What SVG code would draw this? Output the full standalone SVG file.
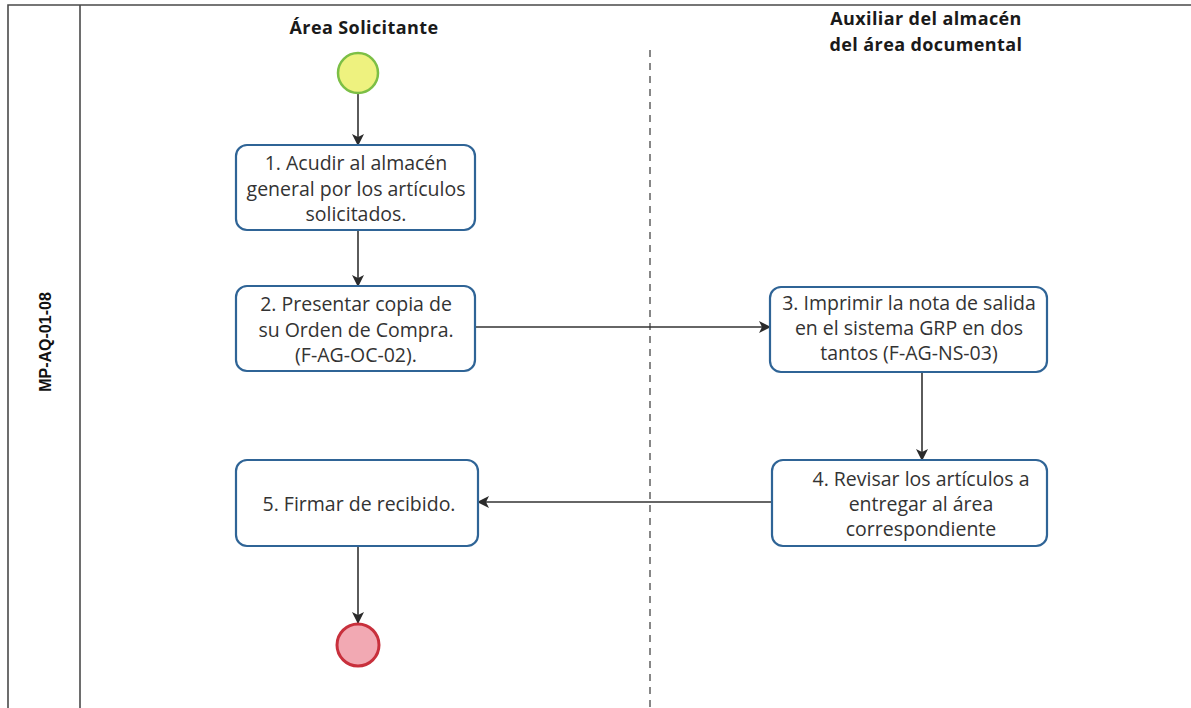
<svg xmlns="http://www.w3.org/2000/svg" width="1191" height="708" viewBox="0 0 1191 708">
  <style>
    .frame { fill: none; stroke: #4a4a4a; stroke-width: 1.6; }
    .lane { fill: none; stroke: #555; stroke-width: 1.4; stroke-dasharray: 7 6; }
    .task { fill: #ffffff; stroke: #2f6496; stroke-width: 2.2; }
    .txt { font-family: "Open Sans", "Noto Sans", sans-serif; font-size: 19.5px; fill: #333; text-anchor: middle; dominant-baseline: central; }
    .hdr { font-family: "Open Sans", "Noto Sans", sans-serif; font-size: 18px; font-weight: bold; letter-spacing: 0.4px; fill: #1a1a1a; text-anchor: middle; dominant-baseline: central; }
    .code { font-family: "Liberation Sans", Arial, sans-serif; font-size: 16px; font-weight: bold; fill: #111; text-anchor: middle; dominant-baseline: central; }
    .conn { fill: none; stroke: #333; stroke-width: 1.6; marker-end: url(#arrow); }
  </style>
  <defs>
    <marker id="arrow" viewBox="0 0 12 12" refX="11" refY="6" markerWidth="12" markerHeight="12" markerUnits="userSpaceOnUse" orient="auto">
      <path d="M0,0 L12,6 L0,12 L3,6 Z" fill="#2b2b2b"/>
    </marker>
  </defs>

  <rect width="1191" height="708" fill="#ffffff"/>

  <!-- pool frame and lanes -->
  <g id="pool">
    <path class="frame" d="M8,708 L8,5 L1191,5"/>
    <line class="frame" x1="80" y1="5" x2="80" y2="708"/>
    <line class="lane" x1="650" y1="50" x2="650" y2="708"/>
    <text class="code" transform="translate(45,342) rotate(-90)">MP-AQ-01-08</text>
    <text class="hdr" x="364" y="27">Área Solicitante</text>
    <text class="hdr" x="926" y="18">Auxiliar del almacén</text>
    <text class="hdr" x="926" y="44">del área documental</text>
  </g>

  <!-- connectors -->
  <g id="connectors">
    <line class="conn" x1="358" y1="94" x2="358" y2="145"/>
    <line class="conn" x1="358" y1="230" x2="358" y2="286"/>
    <line class="conn" x1="475" y1="327" x2="770" y2="327"/>
    <line class="conn" x1="922" y1="372" x2="922" y2="460"/>
    <line class="conn" x1="772" y1="502" x2="478" y2="502"/>
    <line class="conn" x1="358" y1="546" x2="358" y2="623"/>
  </g>

  <g id="start">
    <circle cx="358" cy="73" r="20" fill="#eef27f" stroke="#7cbf45" stroke-width="2.5"/>
  </g>

  <g id="task1">
    <rect class="task" x="236" y="145" width="239" height="85" rx="11"/>
    <text class="txt" x="356" y="162">1. Acudir al almacén</text>
    <text class="txt" x="356" y="188">general por los artículos</text>
    <text class="txt" x="356" y="213">solicitados.</text>
  </g>

  <g id="task2">
    <rect class="task" x="236" y="286" width="239" height="85" rx="11"/>
    <text class="txt" x="356" y="303">2. Presentar copia de</text>
    <text class="txt" x="356" y="329">su Orden de Compra.</text>
    <text class="txt" x="356" y="354">(F-AG-OC-02).</text>
  </g>

  <g id="task3">
    <rect class="task" x="770" y="287" width="277" height="85" rx="11"/>
    <text class="txt" x="909" y="302">3. Imprimir la nota de salida</text>
    <text class="txt" x="909" y="327">en el sistema GRP en dos</text>
    <text class="txt" x="909" y="352">tantos (F-AG-NS-03)</text>
  </g>

  <g id="task4">
    <rect class="task" x="772" y="460" width="275" height="86" rx="11"/>
    <text class="txt" x="921" y="478">4. Revisar los artículos a</text>
    <text class="txt" x="921" y="503">entregar al área</text>
    <text class="txt" x="921" y="528">correspondiente</text>
  </g>

  <g id="task5">
    <rect class="task" x="236" y="460" width="242" height="86" rx="11"/>
    <text class="txt" x="359" y="503">5. Firmar de recibido.</text>
  </g>

  <g id="end">
    <circle cx="358" cy="645" r="21" fill="#f2a9b3" stroke="#c8303c" stroke-width="3"/>
  </g>
</svg>
